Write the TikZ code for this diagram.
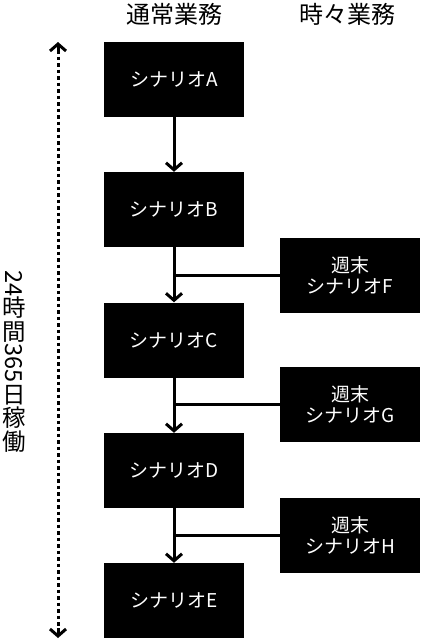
\documentclass[tikz,border=0pt]{standalone}
\usepackage{fontspec}
\setmainfont{Noto Sans CJK JP}
\usetikzlibrary{arrows.meta}
\tikzset{
  box/.style={fill=black, text=white, minimum width=140pt, minimum height=75pt, inner sep=0pt, align=center, font=\fontsize{19}{21}\selectfont},
  flow/.style={line width=3pt, -{Straight Barb[length=7pt,width=16pt]}},
  joinline/.style={line width=3pt},
  hdr/.style={font=\fontsize{24}{26}\selectfont, inner sep=0pt},
  vt/.style={font=\fontsize{23.5}{23.5}\selectfont, inner sep=0pt}
}
\newcommand{\kj}[1]{\raisebox{0pt}[0.88em][0.12em]{#1}}
\newcommand{\dg}[1]{\rotatebox{-90}{#1}}
\begin{document}
\begin{tikzpicture}[x=1pt,y=-1pt]
\useasboundingbox (0,0) rectangle (424,640);
\node[hdr] (h1) at (174,14) {通常業務};
\node[hdr] (h2) at (347,14) {時々業務};
\node[box] (A) at (174,79.5) {シナリオA};
\node[box] (B) at (174,209.5) {シナリオB};
\node[box] (C) at (174,340) {シナリオC};
\node[box] (D) at (174,470.5) {シナリオD};
\node[box] (E) at (174,600.5) {シナリオE};
\node[box] (F) at (350,275.5) {週末\\シナリオF};
\node[box] (G) at (350,404.5) {週末\\シナリオG};
\node[box] (H) at (350,535.5) {週末\\シナリオH};
\draw[flow] (A) -- (B);
\draw[flow] (B) -- (C);
\draw[flow] (C) -- (D);
\draw[flow] (D) -- (E);
\draw[joinline] (F.west) -- (F.west -| B.south);
\draw[joinline] (G.west) -- (G.west -| C.south);
\draw[joinline] (H.west) -- (H.west -| D.south);
\coordinate (t) at (58,42);
\coordinate (b) at (58,638);
\draw[line width=3pt, dash pattern=on 3.5pt off 3pt] (58,50) -- (58,630);
\draw[line width=3pt, {Straight Barb[length=7pt,width=16pt]}-] (t) -- (58,52);
\draw[line width=3pt, -{Straight Barb[length=7pt,width=16pt]}] (58,628) -- (b);
\node[vt] (v) at (14,361.5) {\vbox{\offinterlineskip\halign{\hfil#\hfil\cr
\dg{24}\cr\kj{時}\cr\kj{間}\cr\dg{365}\cr\kj{日}\cr\kj{稼}\cr\kj{働}\cr}}};
\end{tikzpicture}
\end{document}
